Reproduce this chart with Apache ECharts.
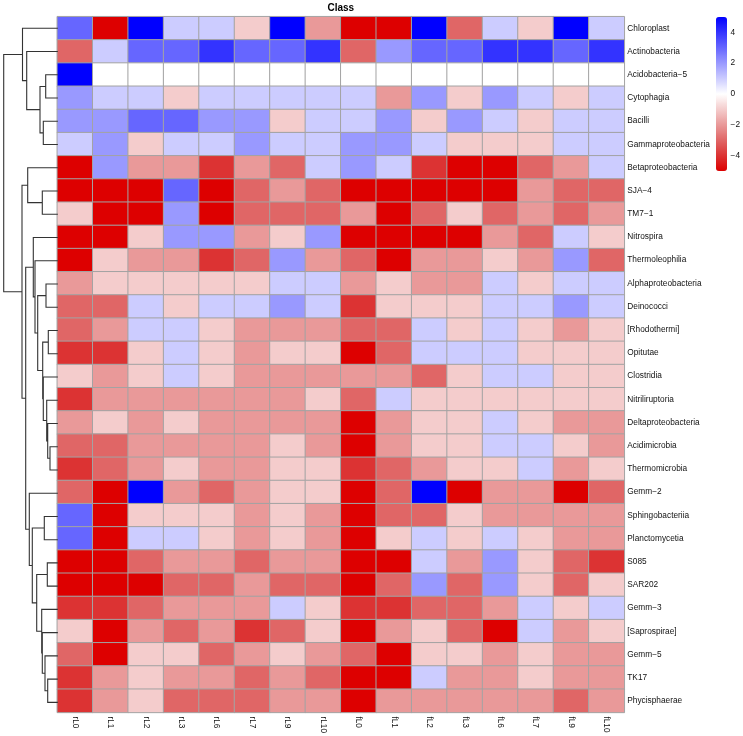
<!DOCTYPE html>
<html>
<head>
<meta charset="utf-8">
<title>Class</title>
<script src="https://cdn.jsdelivr.net/npm/echarts@6/dist/echarts.min.js"></script>
<style>
  html, body { margin: 0; padding: 0; background: #fff; }
  #chart { width: 743px; height: 736px; }
</style>
</head>
<body>
<div id="chart"></div>
<script>
const samples = ['rL0', 'rL1', 'rL2', 'rL3', 'rL6', 'rL7', 'rL9', 'rL10', 'fL0', 'fL1', 'fL2', 'fL3', 'fL6', 'fL7', 'fL9', 'fL10'];

const taxa = ['Chloroplast', 'Actinobacteria', 'Acidobacteria−5', 'Cytophagia', 'Bacilli', 'Gammaproteobacteria',
  'Betaproteobacteria', 'SJA−4', 'TM7−1', 'Nitrospira', 'Thermoleophilia', 'Alphaproteobacteria', 'Deinococci',
  '[Rhodothermi]', 'Opitutae', 'Clostridia', 'Nitriliruptoria', 'Deltaproteobacteria', 'Acidimicrobia',
  'Thermomicrobia', 'Gemm−2', 'Sphingobacteriia', 'Planctomycetia', 'S085', 'SAR202', 'Gemm−3', '[Saprospirae]',
  'Gemm−5', 'TK17', 'Phycisphaerae'];

// one row per taxon
const values = [
  [3, -5, 5, 1, 1, -1, 5, -2, -5, -5, 5, -3, 1, -1, 5, 1],
  [-3, 1, 3, 3, 4, 3, 3, 4, -3, 2, 3, 3, 4, 4, 3, 4],
  [5, 0, 0, 0, 0, 0, 0, 0, 0, 0, 0, 0, 0, 0, 0, 0],
  [2, 1, 1, -1, 1, 1, 1, 1, 1, -2, 2, -1, 2, 1, -1, 1],
  [2, 2, 3, 3, 2, 2, -1, 1, 1, 2, -1, 2, 1, -1, 1, 1],
  [1, 2, -1, 1, 1, 2, 1, 1, 2, 2, 1, -1, -1, -1, 1, 1],
  [-5, 2, -2, -2, -4, -2, -3, 1, 2, 1, -4, -5, -5, -3, -2, 1],
  [-5, -5, -5, 3, -5, -3, -2, -3, -5, -5, -5, -5, -5, -2, -3, -3],
  [-1, -5, -5, 2, -5, -3, -3, -3, -2, -5, -3, -1, -3, -2, -3, -2],
  [-5, -5, -1, 2, 2, -2, -1, 2, -5, -5, -5, -5, -2, -3, 1, -1],
  [-5, -1, -2, -2, -4, -3, 2, -2, -3, -5, -2, -2, -1, -2, 2, -3],
  [-2, -1, -1, -1, -1, -1, 1, 1, -2, -1, -2, -2, 1, -1, 1, 1],
  [-3, -3, 1, -1, 1, 1, 2, 1, -4, -1, -1, -1, 1, 1, 2, 1],
  [-3, -2, 1, 1, -1, -2, -2, -2, -3, -3, 1, -1, 1, -1, -2, -1],
  [-4, -4, -1, 1, -1, -2, -1, -1, -5, -3, 1, 1, 1, -1, -1, -1],
  [-1, -2, -1, 1, -1, -2, -2, -2, -2, -2, -3, -1, 1, 1, -1, -1],
  [-4, -2, -2, -2, -2, -2, -2, -1, -3, 1, -1, -1, -1, -1, -1, -1],
  [-2, -1, -2, -1, -2, -2, -2, -2, -5, -2, -1, -1, 1, -1, -2, -2],
  [-3, -3, -2, -2, -2, -2, -1, -2, -5, -2, -1, -1, 1, 1, -1, -2],
  [-4, -3, -2, -1, -2, -2, -1, -1, -4, -3, -2, -1, -1, 1, -2, -1],
  [-3, -5, 5, -2, -3, -2, -1, -1, -5, -3, 5, -5, -2, -2, -5, -3],
  [3, -5, -1, -1, -1, -2, -1, -2, -5, -3, -3, -1, -2, -2, -2, -2],
  [3, -5, 1, 1, -1, -2, -1, -2, -5, -1, 1, -1, 1, -1, -2, -2],
  [-5, -5, -3, -2, -2, -3, -2, -2, -5, -5, 1, -2, 2, -1, -3, -4],
  [-5, -5, -5, -3, -3, -2, -3, -3, -5, -3, 2, -3, 2, -1, -3, -1],
  [-4, -4, -3, -2, -2, -2, 1, -1, -4, -4, -3, -3, -2, 1, -1, 1],
  [-1, -5, -2, -3, -2, -4, -3, -1, -5, -2, -1, -3, -5, 1, -2, -1],
  [-3, -5, -1, -1, -3, -2, -1, -2, -3, -5, -1, -1, -2, -1, -2, -2],
  [-4, -2, -1, -2, -2, -3, -2, -3, -5, -5, 1, -2, -2, -1, -2, -2],
  [-4, -2, -1, -3, -3, -3, -2, -2, -5, -2, -2, -2, -2, -2, -3, -2]
];

const legendTicks = [-4, -2, 0, 2, 4];

// colour per unit step, -5 to 5
const palette = ['#dd0000', '#dc3333', '#e06666', '#e99999', '#f4cccc', '#ffffff', '#ccccff', '#9999ff', '#6666ff', '#3333ff', '#0000ff'];

// row clustering: [child, child, height]. Below 30 a child is a row, from 30 on it is the merge at index child - 30
const merges = [
  [2, 3, 11.6], [4, 5, 14], [30, 31, 17.3], [1, 32, 30.6], [0, 33, 34.8],
  [7, 8, 15], [6, 35, 29.6],
  [18, 19, 7.3], [17, 37, 9.6], [16, 38, 10.6], [15, 39, 14],
  [13, 14, 9], [41, 40, 14.6], [11, 12, 11.3], [43, 42, 19.6], [10, 44, 22.3], [9, 45, 24],
  [21, 22, 13], [23, 24, 10], [28, 29, 9.6], [27, 49, 12.3], [26, 50, 15], [25, 51, 15.6],
  [48, 52, 20.6], [47, 53, 25], [20, 54, 28], [46, 55, 31.6], [36, 56, 35.3], [34, 57, 53.6]
];

const heatData = [];
values.forEach((row, r) => row.forEach((v, c) => heatData.push([c, r, v])));

// walk the merges into one broken line, y is in row units
const dendroLine = [];
const nodeY = [];
const nodeH = [];
taxa.forEach((t, i) => { nodeY[i] = i + 0.5; nodeH[i] = 0; });
merges.forEach((m, i) => {
  const id = taxa.length + i;
  const a = m[0], b = m[1], h = m[2];
  nodeY[id] = (nodeY[a] + nodeY[b]) / 2;
  nodeH[id] = h;
  dendroLine.push([nodeH[a], nodeY[a]], [h, nodeY[a]], [h, nodeY[b]], [nodeH[b], nodeY[b]], ['-', '-']);
});

const font = 'Liberation Sans, Arial, sans-serif';
const heatGrid = { left: 57.3, top: 16.7, width: 567, height: 697.3 };

const chart = echarts.init(document.getElementById('chart'));
chart.setOption({
  animation: false,
  backgroundColor: '#fff',
  title: {
    text: 'Class', left: 340.8, top: 3, textAlign: 'center', padding: 0,
    textStyle: { fontFamily: font, fontSize: 10, fontWeight: 'bold', color: '#000' }
  },
  grid: [
    heatGrid,
    { left: 0, top: heatGrid.top, width: heatGrid.left, height: heatGrid.height },
    { left: 716, top: 17, width: 11, height: 154 }
  ],
  xAxis: [
    {
      type: 'category', gridIndex: 0, data: samples, position: 'bottom',
      axisLine: { show: false }, axisTick: { show: false }, splitLine: { show: false },
      axisLabel: { interval: 0, rotate: -90, margin: 4, fontFamily: font, fontSize: 8.3, color: '#111' }
    },
    { type: 'value', gridIndex: 1, min: 0, max: 57.3, inverse: true, show: false },
    { type: 'value', gridIndex: 2, min: 0, max: 1, show: false }
  ],
  yAxis: [
    {
      type: 'category', gridIndex: 0, data: taxa, inverse: true, position: 'right',
      axisLine: { show: false }, axisTick: { show: false }, splitLine: { show: false },
      axisLabel: { interval: 0, margin: 3, align: 'left', fontFamily: font, fontSize: 8.3, color: '#111' }
    },
    { type: 'value', gridIndex: 1, min: 0, max: taxa.length, inverse: true, show: false },
    {
      type: 'value', gridIndex: 2, min: -5, max: 5, position: 'right',
      axisLine: { show: false }, axisTick: { show: false }, splitLine: { show: false },
      axisLabel: {
        customValues: legendTicks, margin: 4, fontFamily: font, fontSize: 8.3, color: '#111',
        formatter: v => String(v).replace('-', '−')
      }
    }
  ],
  visualMap: {
    type: 'continuous', seriesIndex: 0, min: -5, max: 5, inRange: { color: palette },
    left: 716, top: 17, itemWidth: 11, itemHeight: 154, padding: 0,
    calculable: false, realtime: false, hoverLink: false, text: null, showLabel: false,
    textStyle: { fontSize: 0 }
  },
  series: [
    {
      type: 'heatmap', xAxisIndex: 0, yAxisIndex: 0, data: heatData, silent: true,
      itemStyle: { borderColor: '#a3a3a3', borderWidth: 1 }
    },
    {
      type: 'line', xAxisIndex: 1, yAxisIndex: 1, data: dendroLine, silent: true,
      showSymbol: false, symbol: 'none', connectNulls: false, clip: false,
      lineStyle: { color: '#333', width: 1.1, join: 'miter', cap: 'square' }
    }
  ]
});
</script>
</body>
</html>
